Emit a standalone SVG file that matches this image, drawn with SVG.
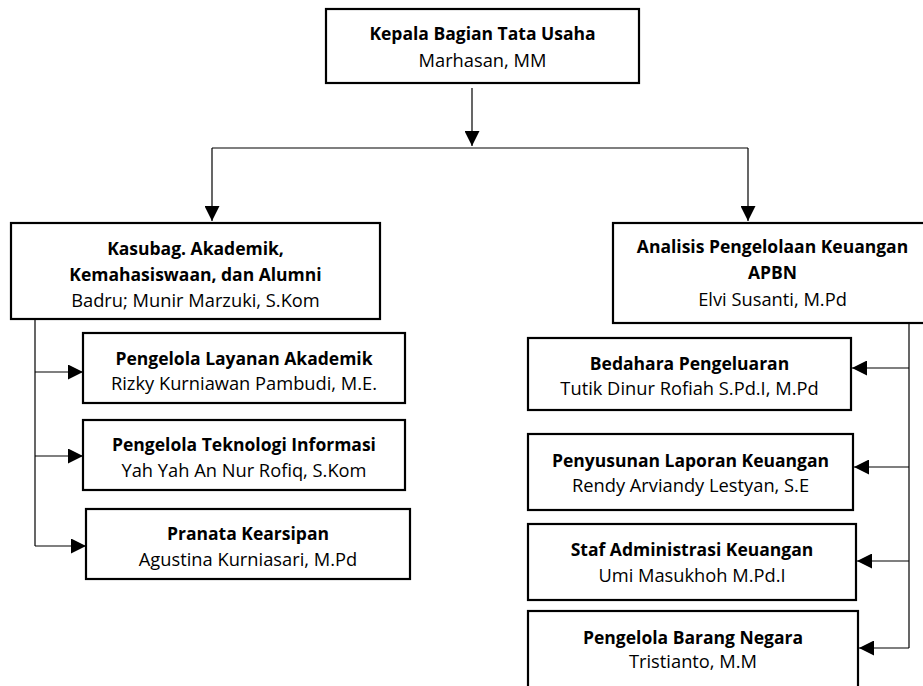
<svg xmlns="http://www.w3.org/2000/svg" width="923" height="686" viewBox="0 0 923 686">
<style>
.box{fill:#fff;stroke:#000;stroke-width:2.2}
.t{font-family:"Open Sans","Noto Sans",sans-serif;font-size:18.3px;text-anchor:middle;fill:#000}
.b{font-weight:bold;font-size:17.5px}
.c{fill:none;stroke:#000;stroke-width:1.2}
</style>
<defs>
<marker id="ah" markerUnits="userSpaceOnUse" markerWidth="15" markerHeight="15" refX="15" refY="7.5" orient="auto"><path d="M0,0 L15,7.5 L0,15 z" fill="#000"/></marker>
</defs>
<rect width="923" height="686" fill="#fff"/>
<g id="connectors">
<path class="c" d="M472,88 V146" marker-end="url(#ah)"/>
<path class="c" d="M212,148 H748"/>
<path class="c" d="M212,148 V221" marker-end="url(#ah)"/>
<path class="c" d="M748,148 V221" marker-end="url(#ah)"/>
<path class="c" d="M35,320 V546"/>
<path class="c" d="M35,372 H83" marker-end="url(#ah)"/>
<path class="c" d="M35,456 H83" marker-end="url(#ah)"/>
<path class="c" d="M35,546 H86" marker-end="url(#ah)"/>
<path class="c" d="M909,324 V648"/>
<path class="c" d="M909,368 H852" marker-end="url(#ah)"/>
<path class="c" d="M909,467 H854" marker-end="url(#ah)"/>
<path class="c" d="M909,561 H857" marker-end="url(#ah)"/>
<path class="c" d="M909,648 H859" marker-end="url(#ah)"/>
</g>
<g id="kepala">
<rect class="box" x="326" y="9" width="313" height="74"/>
<text class="t b" x="482.5" y="40">Kepala Bagian Tata Usaha</text>
<text class="t" x="482.5" y="67">Marhasan, MM</text>
</g>
<g id="kasubag">
<rect class="box" x="11" y="223" width="369" height="96"/>
<text class="t b" x="195.5" y="255">Kasubag. Akademik,</text>
<text class="t b" x="195.5" y="281">Kemahasiswaan, dan Alumni</text>
<text class="t" x="195.5" y="307">Badru; Munir Marzuki, S.Kom</text>
</g>
<g id="layanan">
<rect class="box" x="83" y="333" width="322" height="70"/>
<text class="t b" x="244" y="365">Pengelola Layanan Akademik</text>
<text class="t" x="244" y="390">Rizky Kurniawan Pambudi, M.E.</text>
</g>
<g id="teknologi">
<rect class="box" x="83" y="420" width="322" height="70"/>
<text class="t b" x="244" y="451">Pengelola Teknologi Informasi</text>
<text class="t" x="244" y="477">Yah Yah An Nur Rofiq, S.Kom</text>
</g>
<g id="pranata">
<rect class="box" x="86" y="509" width="324" height="70"/>
<text class="t b" x="248" y="540">Pranata Kearsipan</text>
<text class="t" x="248" y="566">Agustina Kurniasari, M.Pd</text>
</g>
<g id="analisis">
<rect class="box" x="613" y="223" width="320" height="100"/>
<text class="t b" x="772.5" y="253">Analisis Pengelolaan Keuangan</text>
<text class="t b" x="772.5" y="279">APBN</text>
<text class="t" x="772.5" y="306">Elvi Susanti, M.Pd</text>
</g>
<g id="bedahara">
<rect class="box" x="528" y="338" width="323" height="72"/>
<text class="t b" x="689.5" y="370">Bedahara Pengeluaran</text>
<text class="t" x="689.5" y="395">Tutik Dinur Rofiah S.Pd.I, M.Pd</text>
</g>
<g id="penyusunan">
<rect class="box" x="528" y="434" width="325" height="76"/>
<text class="t b" x="690.5" y="467">Penyusunan Laporan Keuangan</text>
<text class="t" x="690.5" y="492">Rendy Arviandy Lestyan, S.E</text>
</g>
<g id="staf">
<rect class="box" x="528" y="524" width="328" height="76"/>
<text class="t b" x="692" y="556">Staf Administrasi Keuangan</text>
<text class="t" x="692" y="582">Umi Masukhoh M.Pd.I</text>
</g>
<g id="barang">
<rect class="box" x="528" y="611" width="330" height="95"/>
<text class="t b" x="693" y="644">Pengelola Barang Negara</text>
<text class="t" x="693" y="668">Tristianto, M.M</text>
</g>
</svg>
